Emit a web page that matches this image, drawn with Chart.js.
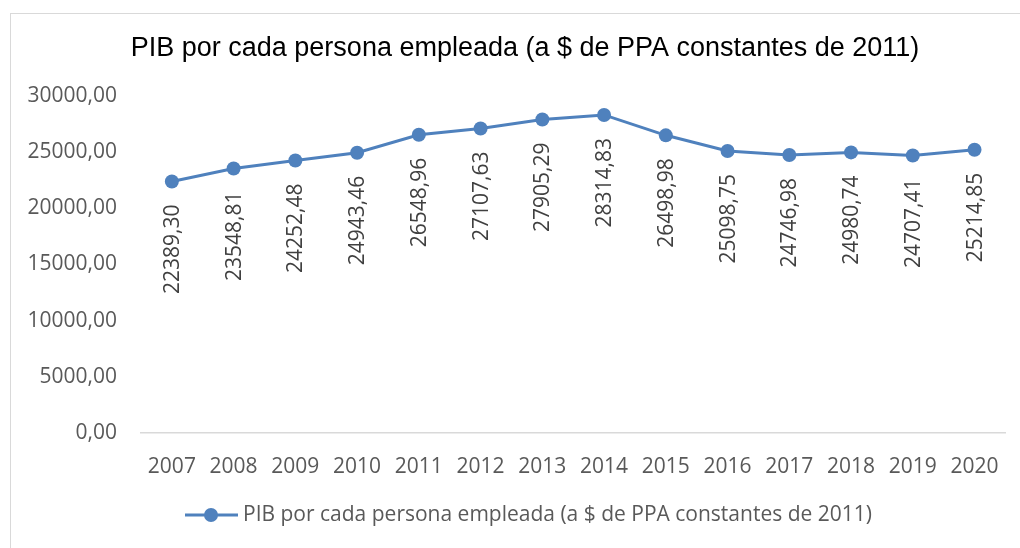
<!DOCTYPE html>
<html>
<head>
<meta charset="utf-8">
<script src="https://cdn.jsdelivr.net/npm/chart.js@4.4.1/dist/chart.umd.min.js"></script>
<style>
  html, body { margin: 0; padding: 0; background: #fff; }
  #frame { position: absolute; left: 10px; top: 13px; width: 1100px; height: 600px; border-left: 1px solid #d9d9d9; border-top: 1px solid #d9d9d9; }
  #wrap { position: absolute; left: 0; top: 0; width: 1020px; height: 548px; }
</style>
</head>
<body>
<div id="frame"></div>
<div id="wrap"><canvas id="c" width="1020" height="548"></canvas></div>
<script>
const title = 'PIB por cada persona empleada (a $ de PPA constantes de 2011)';
const seriesName = 'PIB por cada persona empleada (a $ de PPA constantes de 2011)';
const years = ['2007','2008','2009','2010','2011','2012','2013','2014','2015','2016','2017','2018','2019','2020'];
const values = [22389.30, 23548.81, 24252.48, 24943.46, 26548.96, 27107.63, 27905.29, 28314.83, 26498.98, 25098.75, 24746.98, 24980.74, 24707.41, 25214.85];
const yTicks = [0, 5000, 10000, 15000, 20000, 25000, 30000];

const lineColor = '#4f81bd';
const tickFont = '"Open Sans", sans-serif';
const fmt = v => v.toFixed(2).replace('.', ',');

const extras = {
  id: 'extras',
  afterDatasetsDraw(chart) {
    const ctx = chart.ctx;
    const meta = chart.getDatasetMeta(0);
    ctx.save();
    ctx.fillStyle = '#404040';
    ctx.font = '21px ' + tickFont;
    meta.data.forEach((pt, i) => {
      ctx.save();
      ctx.translate(pt.x + 1, pt.y + 23);
      ctx.rotate(-Math.PI / 2);
      ctx.textAlign = 'right';
      ctx.textBaseline = 'middle';
      ctx.fillText(fmt(values[i]), 0, 0);
      ctx.restore();
    });
    // title
    ctx.fillStyle = '#000';
    ctx.font = '27px "Liberation Sans", Arial, sans-serif';
    ctx.textAlign = 'center';
    ctx.textBaseline = 'middle';
    ctx.fillText(title, 525, 49);
    // legend
    const ly = 515;
    ctx.strokeStyle = lineColor;
    ctx.lineWidth = 3;
    ctx.beginPath();
    ctx.moveTo(185, ly);
    ctx.lineTo(238, ly);
    ctx.stroke();
    ctx.fillStyle = lineColor;
    ctx.beginPath();
    ctx.arc(211, ly, 7, 0, Math.PI * 2);
    ctx.fill();
    ctx.fillStyle = '#595959';
    ctx.font = '21px ' + tickFont;
    ctx.textAlign = 'left';
    ctx.fillText(seriesName, 243, ly);
    ctx.restore();
  }
};

new Chart(document.getElementById('c'), {
  type: 'line',
  data: {
    labels: years,
    datasets: [{
      label: seriesName,
      data: values,
      borderColor: lineColor,
      backgroundColor: lineColor,
      borderWidth: 3,
      pointRadius: 7,
      pointHoverRadius: 7,
      pointBackgroundColor: lineColor,
      pointBorderColor: lineColor,
      pointBorderWidth: 0,
      tension: 0
    }]
  },
  options: {
    responsive: false,
    animation: false,
    events: [],
    layout: { padding: { top: 96, right: 13, bottom: 65, left: 0 } },
    plugins: { legend: { display: false }, title: { display: false }, tooltip: { enabled: false } },
    scales: {
      x: {
        offset: true,
        grid: { display: false, drawTicks: false },
        border: { display: true, color: '#d9d9d9', width: 1.5 },
        ticks: { color: '#595959', font: { family: tickFont, size: 21 }, padding: 21, maxRotation: 0, autoSkip: false },
        afterFit(s) { s.height = 50; }
      },
      y: {
        min: 0, max: 30000,
        grid: { display: false, drawTicks: false },
        border: { display: false },
        afterBuildTicks(s) { s.ticks = yTicks.map(v => ({ value: v })); },
        ticks: { color: '#595959', font: { family: tickFont, size: 21 }, padding: 24, callback: v => fmt(v) },
        afterFit(s) { s.width = 141; }
      }
    }
  },
  plugins: [extras]
});
</script>
</body>
</html>
